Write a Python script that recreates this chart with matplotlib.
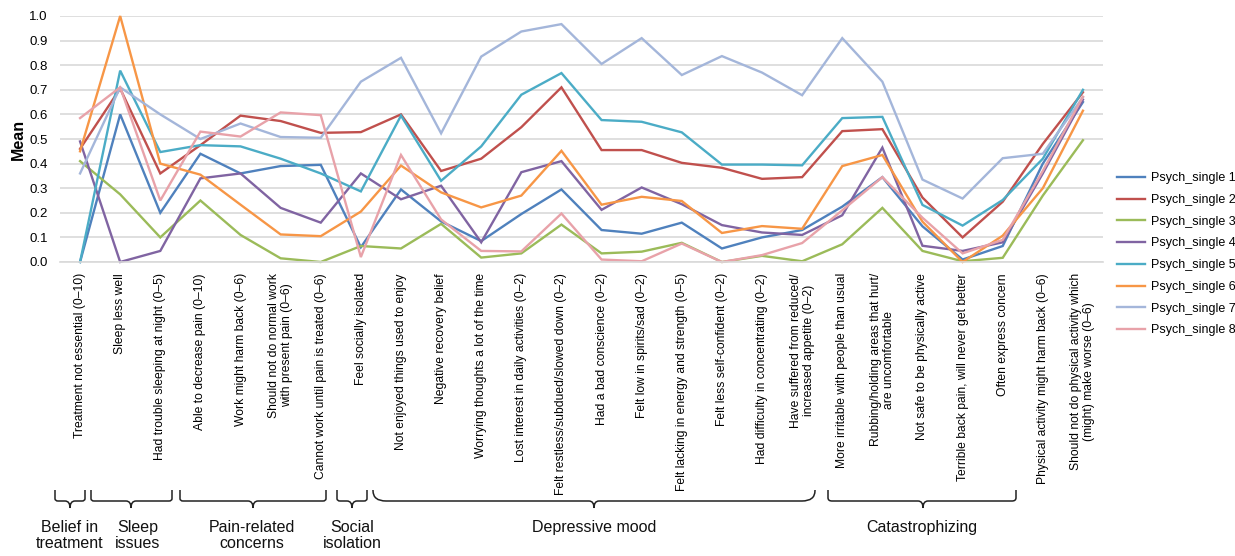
import matplotlib
matplotlib.use("Agg")
import matplotlib.pyplot as plt
from matplotlib.path import Path
from matplotlib.patches import PathPatch
from matplotlib.transforms import Affine2D
import numpy as np

plt.rcParams['font.family'] = ['Liberation Sans', 'DejaVu Sans']

categories = [
    "Treatment not essential (0–10)",
    "Sleep less well",
    "Had trouble sleeping at night (0–5)",
    "Able to decrease pain (0–10)",
    "Work might harm back (0–6)",
    "Should not do normal work\nwith present pain (0–6)",
    "Cannot work until pain is treated (0–6)",
    "Feel socially isolated",
    "Not enjoyed things used to enjoy",
    "Negative recovery belief",
    "Worrying thoughts a lot of the time",
    "Lost interest in daily activities (0–2)",
    "Felt restless/subdued/slowed down (0–2)",
    "Had a bad conscience (0–2)",
    "Felt low in spirits/sad (0–2)",
    "Felt lacking in energy and strength (0–5)",
    "Felt less self-confident (0–2)",
    "Had difficulty in concentrating (0–2)",
    "Have suffered from reduced/\nincreased appetite (0–2)",
    "More irritable with people than usual",
    "Rubbing/holding areas that hurt/\nare uncomfortable",
    "Not safe to be physically active",
    "Terrible back pain, will never get better",
    "Often express concern",
    "Physical activity might harm back (0–6)",
    "Should not do physical activity which\n(might) make worse (0–6)",
]

psych_single_1 = [0.0, 0.60, 0.20, 0.44, 0.36, 0.39, 0.395, 0.06, 0.295, 0.165, 0.085, 0.195, 0.295,
                  0.13, 0.115, 0.16, 0.055, 0.10, 0.13, 0.225, 0.345, 0.145, 0.01, 0.065, 0.40, 0.65]
psych_single_2 = [0.46, 0.705, 0.36, 0.475, 0.595, 0.573, 0.525, 0.528, 0.60, 0.37, 0.42, 0.548, 0.71,
                  0.455, 0.455, 0.403, 0.383, 0.338, 0.345, 0.532, 0.54, 0.262, 0.10, 0.245, 0.48, 0.69]
psych_single_3 = [0.41, 0.275, 0.10, 0.25, 0.11, 0.015, 0.0, 0.065, 0.055, 0.155, 0.018, 0.035, 0.152,
                  0.035, 0.042, 0.078, 0.0, 0.025, 0.003, 0.072, 0.22, 0.045, 0.003, 0.017, 0.27, 0.495]
psych_single_4 = [0.49, 0.0, 0.045, 0.34, 0.36, 0.22, 0.16, 0.36, 0.255, 0.31, 0.08, 0.365, 0.41,
                  0.212, 0.303, 0.235, 0.15, 0.12, 0.11, 0.19, 0.465, 0.066, 0.045, 0.08, 0.36, 0.66]
psych_single_5 = [0.0, 0.778, 0.447, 0.475, 0.47, 0.42, 0.36, 0.287, 0.595, 0.33, 0.47, 0.68, 0.768,
                  0.577, 0.57, 0.527, 0.396, 0.396, 0.393, 0.585, 0.59, 0.232, 0.148, 0.252, 0.42, 0.70]
psych_single_6 = [0.45, 1.0, 0.40, 0.355, 0.233, 0.112, 0.105, 0.205, 0.392, 0.283, 0.222, 0.27, 0.452,
                  0.233, 0.265, 0.248, 0.118, 0.146, 0.135, 0.39, 0.435, 0.164, 0.0, 0.107, 0.30, 0.615]
psych_single_7 = [0.36, 0.71, 0.60, 0.50, 0.563, 0.508, 0.505, 0.733, 0.83, 0.523, 0.835, 0.937, 0.967,
                  0.805, 0.91, 0.76, 0.837, 0.77, 0.678, 0.91, 0.733, 0.335, 0.258, 0.422, 0.44, 0.67]
psych_single_8 = [0.585, 0.71, 0.25, 0.53, 0.51, 0.608, 0.597, 0.02, 0.435, 0.173, 0.045, 0.043, 0.197,
                  0.01, 0.003, 0.075, 0.0, 0.028, 0.077, 0.21, 0.345, 0.18, 0.035, 0.09, 0.37, 0.672]

series_names = ["Psych_single 1", "Psych_single 2", "Psych_single 3", "Psych_single 4",
                "Psych_single 5", "Psych_single 6", "Psych_single 7", "Psych_single 8"]
series_values = [psych_single_1, psych_single_2, psych_single_3, psych_single_4,
                 psych_single_5, psych_single_6, psych_single_7, psych_single_8]
colors = ["#4F81BD", "#C0504D", "#9BBB59", "#8064A2", "#4BACC6", "#F79646", "#A4B6DA", "#E8A2A9"]

y_ticks = [0.0, 0.1, 0.2, 0.3, 0.4, 0.5, 0.6, 0.7, 0.8, 0.9, 1.0]

groups = ["Belief in\ntreatment", "Sleep\nissues", "Pain-related\nconcerns", "Social\nisolation",
          "Depressive mood", "Catastrophizing"]

W, H = 1235, 556
fig = plt.figure(figsize=(W / 100, H / 100), dpi=100)
ax = fig.add_axes([60 / W, 1 - 262 / H, (1103 - 60) / W, (262 - 16) / H])

x = np.arange(len(categories))
for name, vals, c in zip(series_names, series_values, colors):
    ax.plot(x, vals, color=c, lw=1.7, label=name, clip_on=False, solid_joinstyle='miter')

ax.set_xlim(-0.5, len(categories) - 0.5)
ax.set_ylim(0, 1.0)
ax.set_yticks(y_ticks)
ax.set_yticklabels([f"{v:.1f}" for v in y_ticks], fontsize=9.5)
ax.yaxis.grid(True, color="#D9D9D9", lw=1.2)
ax.set_axisbelow(True)
for s in ["top", "right", "left"]:
    ax.spines[s].set_visible(False)
ax.spines["bottom"].set_color("#D9D9D9")
ax.spines["bottom"].set_linewidth(1.2)
ax.tick_params(axis="y", length=0, pad=9)
ax.tick_params(axis="x", length=0, pad=8)
ax.set_xticks(x)
ax.set_xticklabels(categories, rotation=90, fontsize=8.7, va="top", ha="center", linespacing=1.1)
ax.set_ylabel("Mean", fontsize=11.5, fontweight="bold", labelpad=2)

leg = fig.legend(loc="upper left", bbox_to_anchor=(1111 / W, 1 - 166 / H), frameon=False,
                 fontsize=9, handlelength=2.2, handletextpad=0.5, labelspacing=0.78, borderpad=0)

# braces (pixel coordinates, top-left origin)
pix = Affine2D().scale(1 / W, -1 / H).translate(0, 1) + fig.transFigure


def brace(x0, x1, xm, r, ytop=490, yline=501, ytip=508):
    verts = [(x0, ytop), (x0, yline - r * 0.8), (x0, yline), (x0 + r, yline),
             (xm - 5, yline), (xm, yline), (xm, ytip), (xm, yline), (xm + 5, yline),
             (x1 - r, yline), (x1, yline), (x1, yline - r * 0.8), (x1, ytop)]
    codes = [Path.MOVETO, Path.LINETO, Path.CURVE3, Path.CURVE3,
             Path.LINETO, Path.CURVE3, Path.CURVE3, Path.CURVE3, Path.CURVE3,
             Path.LINETO, Path.CURVE3, Path.CURVE3, Path.LINETO]
    fig.add_artist(PathPatch(Path(verts, codes), transform=pix, fill=False, lw=1.1,
                             edgecolor="#222222"))


brace_spans = [(55, 85, 70, 3), (91, 172, 131, 3), (180, 326, 253, 3), (337, 367, 352, 3),
               (373, 815, 594, 13), (828, 1016, 923, 4)]
for x0, x1, xm, r in brace_spans:
    brace(x0, x1, xm, r)

group_pos = [(70, 520), (138, 520), (252, 520), (352, 520), (594, 520), (922, 520)]
for label, (gx, gy) in zip(groups, group_pos):
    fig.text(gx / W, 1 - gy / H, label, ha="center", va="top", fontsize=11.5,
             linespacing=1.05, color="#111111")

fig.savefig("out.png", dpi=100)
